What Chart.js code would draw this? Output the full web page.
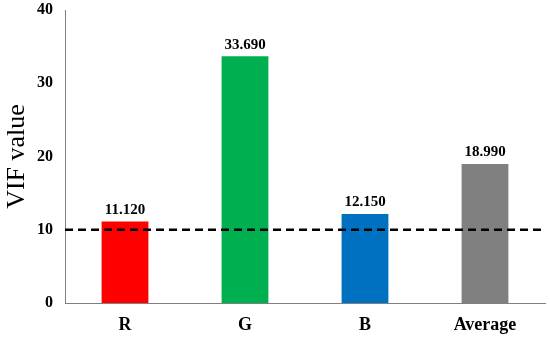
<!DOCTYPE html>
<html>
<head>
<meta charset="utf-8">
<script src="https://cdn.jsdelivr.net/npm/chart.js@4"></script>
<style>
  html, body { margin: 0; padding: 0; background: #fff; }
  #wrap { width: 550px; height: 339px; }
</style>
</head>
<body>
<div id="wrap"><canvas id="vif"></canvas></div>
<script>
const categories = ["R", "G", "B", "Average"];
const vifValues = [11.12, 33.69, 12.15, 18.99];
const barColors = ["#ff0000", "#00b050", "#0070c0", "#808080"];
const yTicks = [0, 10, 20, 30, 40];
const threshold = 10;

const serif = "'Liberation Serif','Times New Roman',serif";

const extras = {
  id: "extras",
  afterDatasetsDraw(chart) {
    const { ctx, chartArea, scales } = chart;
    const y = scales.y.getPixelForValue(threshold);
    ctx.save();
    ctx.strokeStyle = "#000";
    ctx.lineWidth = 2.7;
    ctx.setLineDash([8, 5]);
    ctx.beginPath();
    ctx.moveTo(chartArea.left, y);
    ctx.lineTo(chartArea.right, y);
    ctx.stroke();
    ctx.restore();

    ctx.save();
    ctx.fillStyle = "#000";
    ctx.font = "bold 15px " + serif;
    ctx.textAlign = "center";
    ctx.textBaseline = "bottom";
    chart.getDatasetMeta(0).data.forEach((bar, i) => {
      ctx.fillText(vifValues[i].toFixed(3), bar.x, bar.y - 4);
    });
    ctx.restore();
  }
};

new Chart(document.getElementById("vif"), {
  type: "bar",
  data: {
    labels: categories,
    datasets: [{
      data: vifValues,
      backgroundColor: barColors,
      borderWidth: 0,
      categoryPercentage: 1,
      barPercentage: 0.39
    }]
  },
  options: {
    responsive: true,
    maintainAspectRatio: false,
    animation: false,
    layout: { padding: { top: 10, right: 5, left: 0, bottom: 0 } },
    plugins: { legend: { display: false }, tooltip: { enabled: false } },
    scales: {
      x: {
        grid: { display: false, drawTicks: false },
        border: { color: "#808080", width: 1 },
        ticks: { color: "#000", font: { family: serif, size: 18, weight: "bold" }, padding: 12 },
        afterFit: (s) => { s.height = 36; }
      },
      y: {
        min: 0,
        max: 40,
        afterBuildTicks: (s) => { s.ticks = yTicks.map((v) => ({ value: v })); },
        grid: { display: false, drawTicks: false },
        border: { color: "#808080", width: 1 },
        ticks: { color: "#000", font: { family: serif, size: 16, weight: "bold" }, padding: 12 },
        title: {
          display: true,
          text: "VIF value",
          color: "#000",
          font: { family: serif, size: 26 },
          padding: { top: 2, bottom: 0 }
        },
        afterFit: (s) => { s.width = 65; s.paddingTop = 0; s.paddingBottom = 0; }
      }
    }
  },
  plugins: [extras]
});
</script>
</body>
</html>
